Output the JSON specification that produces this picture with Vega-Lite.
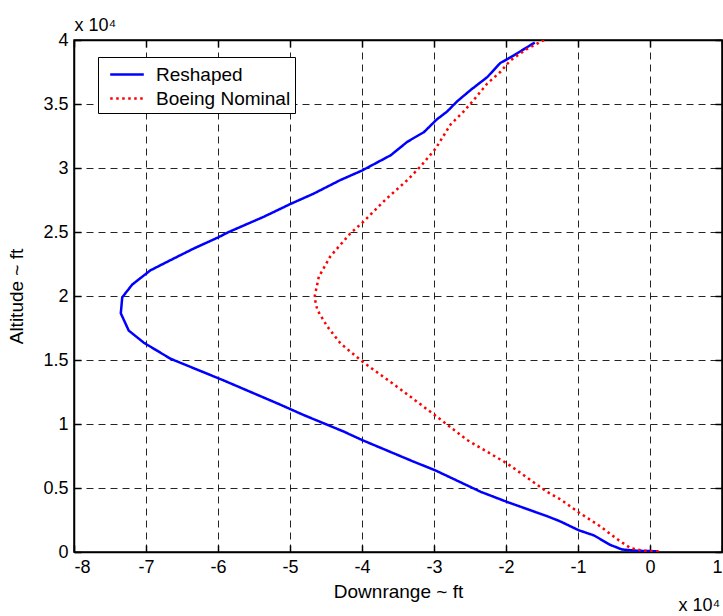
{
  "$schema": "https://vega.github.io/schema/vega-lite/v6.json",
  "width": 648,
  "height": 512,
  "autosize": "none",
  "padding": {"left": 74, "top": 40, "right": 1, "bottom": 64},
  "config": {
    "font": "Liberation Sans",
    "view": {"stroke": "black", "strokeWidth": 1.5},
    "axis": {
      "labelFont": "Liberation Sans",
      "labelFontSize": 18,
      "labelColor": "black",
      "titleFont": "Liberation Sans",
      "titleFontSize": 19,
      "titleFontWeight": "normal",
      "titleColor": "black",
      "domainColor": "black",
      "domainWidth": 1.5,
      "tickColor": "black",
      "tickWidth": 1.5,
      "tickSize": -7
    }
  },
  "data": {
    "values": [
      {"series": "Reshaped", "downrange": 1000, "altitude": 50},
      {"series": "Reshaped", "downrange": -1800, "altitude": 100},
      {"series": "Reshaped", "downrange": -3900, "altitude": 200},
      {"series": "Reshaped", "downrange": -5500, "altitude": 550},
      {"series": "Reshaped", "downrange": -7800, "altitude": 1300},
      {"series": "Reshaped", "downrange": -9900, "altitude": 1700},
      {"series": "Reshaped", "downrange": -12500, "altitude": 2400},
      {"series": "Reshaped", "downrange": -14300, "altitude": 2800},
      {"series": "Reshaped", "downrange": -19800, "altitude": 3900},
      {"series": "Reshaped", "downrange": -23500, "altitude": 4700},
      {"series": "Reshaped", "downrange": -29900, "altitude": 6400},
      {"series": "Reshaped", "downrange": -32800, "altitude": 7050},
      {"series": "Reshaped", "downrange": -40000, "altitude": 8750},
      {"series": "Reshaped", "downrange": -42500, "altitude": 9400},
      {"series": "Reshaped", "downrange": -48100, "altitude": 10700},
      {"series": "Reshaped", "downrange": -51300, "altitude": 11500},
      {"series": "Reshaped", "downrange": -59200, "altitude": 13400},
      {"series": "Reshaped", "downrange": -66600, "altitude": 15100},
      {"series": "Reshaped", "downrange": -70300, "altitude": 16350},
      {"series": "Reshaped", "downrange": -72400, "altitude": 17300},
      {"series": "Reshaped", "downrange": -73500, "altitude": 18650},
      {"series": "Reshaped", "downrange": -73300, "altitude": 19900},
      {"series": "Reshaped", "downrange": -71900, "altitude": 20900},
      {"series": "Reshaped", "downrange": -69400, "altitude": 22000},
      {"series": "Reshaped", "downrange": -66600, "altitude": 22800},
      {"series": "Reshaped", "downrange": -63400, "altitude": 23700},
      {"series": "Reshaped", "downrange": -59900, "altitude": 24600},
      {"series": "Reshaped", "downrange": -58500, "altitude": 25000},
      {"series": "Reshaped", "downrange": -53600, "altitude": 26200},
      {"series": "Reshaped", "downrange": -49900, "altitude": 27200},
      {"series": "Reshaped", "downrange": -46700, "altitude": 28000},
      {"series": "Reshaped", "downrange": -43000, "altitude": 29060},
      {"series": "Reshaped", "downrange": -40000, "altitude": 29800},
      {"series": "Reshaped", "downrange": -36000, "altitude": 31000},
      {"series": "Reshaped", "downrange": -33700, "altitude": 32050},
      {"series": "Reshaped", "downrange": -31400, "altitude": 32800},
      {"series": "Reshaped", "downrange": -29600, "altitude": 33800},
      {"series": "Reshaped", "downrange": -28200, "altitude": 34400},
      {"series": "Reshaped", "downrange": -26800, "altitude": 35200},
      {"series": "Reshaped", "downrange": -24900, "altitude": 36100},
      {"series": "Reshaped", "downrange": -22600, "altitude": 37100},
      {"series": "Reshaped", "downrange": -20800, "altitude": 38200},
      {"series": "Reshaped", "downrange": -18900, "altitude": 38800},
      {"series": "Reshaped", "downrange": -16600, "altitude": 39600},
      {"series": "Reshaped", "downrange": -16000, "altitude": 39800},
      {"series": "Boeing Nominal", "downrange": 1200, "altitude": 50},
      {"series": "Boeing Nominal", "downrange": -900, "altitude": 100},
      {"series": "Boeing Nominal", "downrange": -2700, "altitude": 300},
      {"series": "Boeing Nominal", "downrange": -4300, "altitude": 900},
      {"series": "Boeing Nominal", "downrange": -6900, "altitude": 2000},
      {"series": "Boeing Nominal", "downrange": -9900, "altitude": 3100},
      {"series": "Boeing Nominal", "downrange": -12400, "altitude": 4100},
      {"series": "Boeing Nominal", "downrange": -14300, "altitude": 4700},
      {"series": "Boeing Nominal", "downrange": -19800, "altitude": 6900},
      {"series": "Boeing Nominal", "downrange": -25400, "altitude": 8750},
      {"series": "Boeing Nominal", "downrange": -29900, "altitude": 10700},
      {"series": "Boeing Nominal", "downrange": -35100, "altitude": 12900},
      {"series": "Boeing Nominal", "downrange": -40000, "altitude": 14900},
      {"series": "Boeing Nominal", "downrange": -43000, "altitude": 16300},
      {"series": "Boeing Nominal", "downrange": -44800, "altitude": 17600},
      {"series": "Boeing Nominal", "downrange": -46200, "altitude": 18900},
      {"series": "Boeing Nominal", "downrange": -46600, "altitude": 19900},
      {"series": "Boeing Nominal", "downrange": -46000, "altitude": 21500},
      {"series": "Boeing Nominal", "downrange": -44400, "altitude": 23100},
      {"series": "Boeing Nominal", "downrange": -41600, "altitude": 24900},
      {"series": "Boeing Nominal", "downrange": -40000, "altitude": 25700},
      {"series": "Boeing Nominal", "downrange": -36700, "altitude": 27550},
      {"series": "Boeing Nominal", "downrange": -33700, "altitude": 29060},
      {"series": "Boeing Nominal", "downrange": -31900, "altitude": 30100},
      {"series": "Boeing Nominal", "downrange": -29800, "altitude": 31500},
      {"series": "Boeing Nominal", "downrange": -27700, "altitude": 33400},
      {"series": "Boeing Nominal", "downrange": -25900, "altitude": 34400},
      {"series": "Boeing Nominal", "downrange": -24500, "altitude": 35300},
      {"series": "Boeing Nominal", "downrange": -22600, "altitude": 36600},
      {"series": "Boeing Nominal", "downrange": -20800, "altitude": 37500},
      {"series": "Boeing Nominal", "downrange": -19400, "altitude": 38400},
      {"series": "Boeing Nominal", "downrange": -17100, "altitude": 39300},
      {"series": "Boeing Nominal", "downrange": -14700, "altitude": 40000}
    ]
  },
  "layer": [
    {
      "mark": {"type": "line", "strokeWidth": 2.5, "strokeCap": "butt", "clip": true},
      "encoding": {
        "x": {
          "field": "downrange",
          "type": "quantitative",
          "scale": {"domain": [-80000, 10000], "nice": false, "zero": false},
          "axis": {
            "orient": "bottom",
            "values": [-80000, -70000, -60000, -50000, -40000, -30000, -20000, -10000, 0, 10000],
            "labelExpr": "'' + (datum.value / 10000)",
            "labelPadding": 13.5,
            "grid": true,
            "gridColor": "black",
            "gridDash": [7, 5],
            "gridWidth": 1,
            "gridOpacity": 0.85,
            "title": "Downrange ~ ft",
            "titlePadding": 6
          }
        },
        "y": {
          "field": "altitude",
          "type": "quantitative",
          "scale": {"domain": [0, 40000], "nice": false, "zero": false},
          "axis": {
            "orient": "left",
            "values": [0, 5000, 10000, 15000, 20000, 25000, 30000, 35000, 40000],
            "labelExpr": "'' + (datum.value / 10000)",
            "labelPadding": 13,
            "grid": true,
            "gridColor": "black",
            "gridDash": [7, 5],
            "gridWidth": 1,
            "gridOpacity": 0.85,
            "title": "Altitude ~ ft",
            "titlePadding": 16
          }
        },
        "order": {"field": "altitude", "type": "quantitative"},
        "color": {
          "field": "series",
          "type": "nominal",
          "scale": {"domain": ["Reshaped", "Boeing Nominal"], "range": ["#0000ff", "#ff0000"]},
          "legend": {
            "title": null,
            "orient": "none",
            "legendX": 24,
            "legendY": 17,
            "strokeColor": "black",
            "fillColor": "white",
            "padding": 4,
            "symbolType": "M-1.4,0H1.4",
            "symbolSize": 576,
            "symbolStrokeWidth": 2.5,
            "symbolOffset": 11.5,
            "labelOffset": 15.5,
            "labelFont": "Liberation Sans",
            "labelFontSize": 19,
            "labelColor": "black",
            "labelLimit": 300,
            "rowPadding": 0
          }
        },
        "strokeDash": {
          "field": "series",
          "type": "nominal",
          "scale": {"domain": ["Reshaped", "Boeing Nominal"], "range": [[1, 0], [2.5, 3.5]]},
          "legend": {
            "title": null,
            "orient": "none",
            "legendX": 24,
            "legendY": 17,
            "strokeColor": "black",
            "fillColor": "white",
            "padding": 4,
            "symbolType": "M-1.4,0H1.4",
            "symbolSize": 576,
            "symbolStrokeWidth": 2.5,
            "symbolOffset": 11.5,
            "labelOffset": 15.5,
            "labelFont": "Liberation Sans",
            "labelFontSize": 19,
            "labelColor": "black",
            "labelLimit": 300,
            "rowPadding": 0
          }
        }
      }
    },
    {
      "mark": {"type": "point", "opacity": 0},
      "encoding": {
        "x": {
          "field": "downrange",
          "type": "quantitative",
          "scale": {"domain": [-80000, 10000], "nice": false, "zero": false},
          "axis": {
            "orient": "top",
            "values": [-80000, -70000, -60000, -50000, -40000, -30000, -20000, -10000, 0, 10000],
            "labels": false,
            "grid": false,
            "title": "x 10⁴",
            "titleAngle": 0,
            "titleX": 0,
            "titleY": -10,
            "titleAlign": "left",
            "titleBaseline": "alphabetic",
            "titleFontSize": 18
          }
        },
        "y": {
          "field": "altitude",
          "type": "quantitative",
          "scale": {"domain": [0, 40000], "nice": false, "zero": false},
          "axis": {
            "orient": "right",
            "values": [0, 5000, 10000, 15000, 20000, 25000, 30000, 35000, 40000],
            "labels": false,
            "grid": false,
            "title": "x 10⁴",
            "titleAngle": 0,
            "titleX": -44,
            "titleY": 570,
            "titleAlign": "left",
            "titleBaseline": "alphabetic",
            "titleFontSize": 18
          }
        }
      }
    }
  ],
  "resolve": {"axis": {"x": "independent", "y": "independent"}}
}
